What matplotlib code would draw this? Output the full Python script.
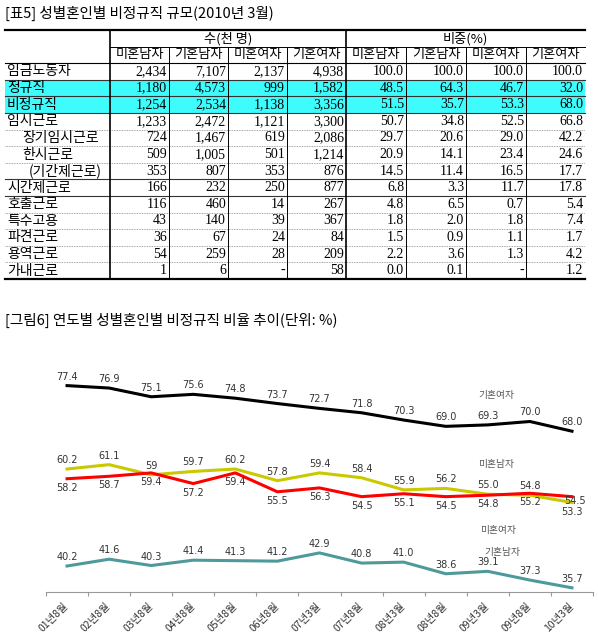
import numpy as np
import matplotlib
matplotlib.use('Agg')
import matplotlib.pyplot as plt
from matplotlib.patches import Rectangle

plt.rcParams['font.family'] = ['Noto Sans CJK KR', 'DejaVu Sans']

# ---- table data (2010년 3월) ----
row_labels = ['임금노동자', '정규직', '비정규직', '임시근로', '장기임시근로', '한시근로',
              '(기간제근로)', '시간제근로', '호출근로', '특수고용', '파견근로', '용역근로', '가내근로']
groups = ['미혼남자', '기혼남자', '미혼여자', '기혼여자']
cnt_single_m = [2434, 1180, 1254, 1233, 724, 509, 353, 166, 116, 43, 36, 54, 1]
cnt_married_m = [7107, 4573, 2534, 2472, 1467, 1005, 807, 232, 460, 140, 67, 259, 6]
cnt_single_f = [2137, 999, 1138, 1121, 619, 501, 353, 250, 14, 39, 24, 28, None]
cnt_married_f = [4938, 1582, 3356, 3300, 2086, 1214, 876, 877, 267, 367, 84, 209, 58]
pct_single_m = [100.0, 48.5, 51.5, 50.7, 29.7, 20.9, 14.5, 6.8, 4.8, 1.8, 1.5, 2.2, 0.0]
pct_married_m = [100.0, 64.3, 35.7, 34.8, 20.6, 14.1, 11.4, 3.3, 6.5, 2.0, 0.9, 3.6, 0.1]
pct_single_f = [100.0, 46.7, 53.3, 52.5, 29.0, 23.4, 16.5, 11.7, 0.7, 1.8, 1.1, 1.3, None]
pct_married_f = [100.0, 32.0, 68.0, 66.8, 42.2, 24.6, 17.7, 17.8, 5.4, 7.4, 1.7, 4.2, 1.2]

# ---- chart data ----
periods = ['01년8월', '02년8월', '03년8월', '04년8월', '05년8월', '06년8월', '07년3월',
           '07년8월', '08년3월', '08년8월', '09년3월', '09년8월', '10년3월']
married_f = [77.4, 76.9, 75.1, 75.6, 74.8, 73.7, 72.7, 71.8, 70.3, 69.0, 69.3, 70.0, 68.0]
yellow_s = [60.2, 61.1, 59, 59.7, 60.2, 57.8, 59.4, 58.4, 55.9, 56.2, 55.0, 54.8, 53.3]
red_s = [58.2, 58.7, 59.4, 57.2, 59.4, 55.5, 56.3, 54.5, 55.1, 54.5, 54.8, 55.2, 54.5]
teal_s = [40.2, 41.6, 40.3, 41.4, 41.3, 41.2, 42.9, 40.8, 41.0, 38.6, 39.1, 37.3, 35.7]

fig = plt.figure(figsize=(5.98, 6.43), dpi=100)
page = fig.add_axes([0, 0, 1, 1])
page.set_xlim(0, 598)
page.set_ylim(643, 0)
page.axis('off')

page.text(5, 13, '[표5] 성별혼인별 비정규직 규모(2010년 3월)', fontsize=10.5, va='center', ha='left')
page.text(5, 320, '[그림6] 연도별 성별혼인별 비정규직 비율 추이(단위: %)', fontsize=10.5, va='center', ha='left')

# table layout
left, right = 5, 585
col_edges = [110, 169, 228, 287, 346, 406, 466, 526, 585]
top, rh = 30, 16.6
n_rows = 2 + len(row_labels)
bottom = top + n_rows * rh
indent = {'장기임시근로': 15, '한시근로': 15, '(기간제근로)': 22}
highlight = ['정규직', '비정규직']

for i, lab in enumerate(row_labels):
    if lab in highlight:
        y0 = top + (i + 2) * rh
        page.add_patch(Rectangle((left, y0), right - left, rh, color='#3ffcfc', lw=0, zorder=1))

# horizontal lines
page.plot([left, right], [top, top], color='black', lw=1.6, zorder=3)
page.plot([col_edges[0], right], [top + rh, top + rh], color='black', lw=0.7, zorder=3)
page.plot([left, right], [top + 2 * rh, top + 2 * rh], color='black', lw=0.8, zorder=3)
solid_after = ['임금노동자', '정규직', '비정규직', '(기간제근로)', '시간제근로']
for i, lab in enumerate(row_labels[:-1]):
    y = top + (i + 3) * rh
    if lab in solid_after:
        page.plot([left, right], [y, y], color='#333333', lw=0.8, zorder=3)
    else:
        page.plot([left, right], [y, y], color='#888888', lw=0.6, ls=(0, (1, 1)), zorder=3)
page.plot([left, right], [bottom, bottom], color='black', lw=1.6, zorder=3)

# vertical lines
for x in col_edges[:-1]:
    if x in (110, 346):
        page.plot([x, x], [top, bottom], color='black', lw=1.2, zorder=3)
    else:
        page.plot([x, x], [top + rh, bottom], color='black', lw=0.7, zorder=3)

# headers
page.text((col_edges[0] + col_edges[4]) / 2, top + rh / 2, '수(천 명)', ha='center', va='center', fontsize=9.5)
page.text((col_edges[4] + col_edges[8]) / 2, top + rh / 2, '비중(%)', ha='center', va='center', fontsize=9.5)
for j in range(8):
    page.text((col_edges[j] + col_edges[j + 1]) / 2, top + 1.5 * rh, groups[j % 4],
              ha='center', va='center', fontsize=9.5)

columns = [cnt_single_m, cnt_married_m, cnt_single_f, cnt_married_f,
           pct_single_m, pct_married_m, pct_single_f, pct_married_f]
for i, lab in enumerate(row_labels):
    yc = top + (i + 2.5) * rh
    page.text(left + 2 + indent.get(lab, 0), yc, lab, ha='left', va='center', fontsize=10, zorder=4)
    for j, col in enumerate(columns):
        v = col[i]
        if v is None:
            s = '-'
        elif j < 4:
            s = f'{v:,}'
        else:
            s = f'{v:.1f}'
        page.text(col_edges[j + 1] - 2, yc, s, ha='right', va='center', fontsize=10,
                  family=['Liberation Serif', 'DejaVu Sans'], zorder=4)

# ---- line chart ----
ax = fig.add_axes([46 / 598, 51.3 / 643, 547 / 598, 218.7 / 643])
ax.patch.set_alpha(0)
x = np.arange(len(periods))
series = [(married_f, 'black', 1), (yellow_s, '#c9c900', 1), (red_s, '#ff0000', -1), (teal_s, '#4e9a9a', 1)]
for vals, c, side in series:
    ax.plot(x, vals, color=c, lw=2.2)
last = len(periods) - 1
for vals, c, side in series:
    for i, v in enumerate(vals):
        dy = 9 * side
        dx = 0
        if i == last and c == '#c9c900':
            dy = -10
        if i == last and c == '#ff0000':
            dy, dx = -4, 3
        txt = f'{v}' if isinstance(v, int) else f'{v:.1f}'
        ax.annotate(txt, (i, v), xytext=(dx, dy), textcoords='offset pixels',
                    ha='center', va='center', fontsize=7, color='#333333', family='DejaVu Sans')

ax.text(10.2, 75.5, '기혼여자', fontsize=7, color='#555555', ha='center', va='center')
ax.text(10.2, 61.2, '미혼남자', fontsize=7, color='#555555', ha='center', va='center')
ax.text(10.25, 47.6, '미혼여자', fontsize=7, color='#555555', ha='center', va='center')
ax.text(10.35, 43.0, '기혼남자', fontsize=7, color='#555555', ha='center', va='center')

ax.set_xlim(-0.5, len(periods) - 0.5)
ax.set_ylim(34.9, 80)
for s in ['top', 'right', 'left']:
    ax.spines[s].set_visible(False)
ax.spines['bottom'].set_color('#999999')
ax.spines['bottom'].set_linewidth(0.8)
ax.set_yticks([])
ax.set_xticks(x)
ax.set_xticklabels(periods, rotation=45, ha='right', va='center', rotation_mode='anchor',
                   fontsize=7.5, color='#333333')
ax.tick_params(axis='x', which='major', length=0, pad=9)
ax.set_xticks(np.arange(-0.5, len(periods)), minor=True)
ax.tick_params(axis='x', which='minor', length=3, color='#999999', width=0.8)

fig.savefig('out.png', dpi=100)
